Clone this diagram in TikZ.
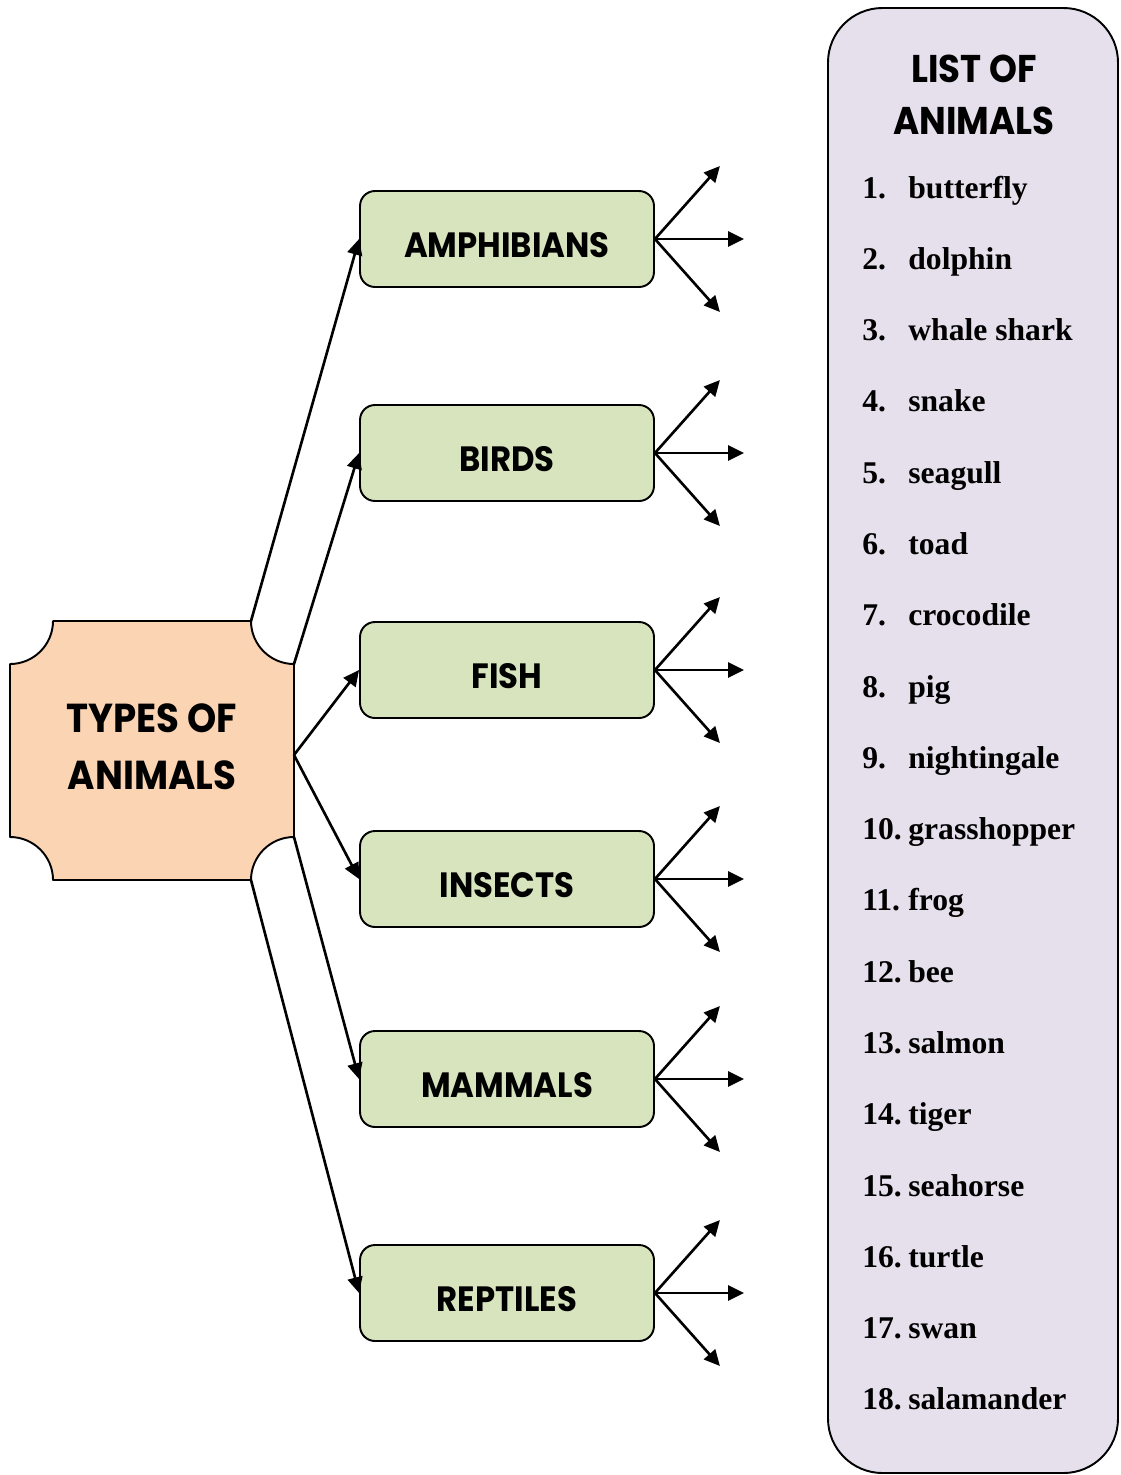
\documentclass[tikz,border=0pt]{standalone}
\usepackage{fontspec}
\setmainfont{Liberation Serif}
\newfontfamily\headfont{Poppins}[FakeStretch=0.92]
\usetikzlibrary{arrows.meta}
\definecolor{peach}{HTML}{FBD4B4}
\definecolor{leaf}{HTML}{D7E4BD}
\definecolor{lilac}{HTML}{E5E0EC}
\tikzset{
  group/.style={draw,line width=1.1pt,fill=leaf,rounded corners=8.5pt,
    minimum width=5.88cm,minimum height=1.92cm,inner sep=0pt,
    text height=20.5pt,text depth=0pt,
    font=\headfont\bfseries\fontsize{20}{24}\selectfont},
  arr/.style={line width=1.5pt,-{Triangle[length=9pt,width=8.5pt]}},
  item/.style={anchor=base west,inner sep=0pt,font=\bfseries\fontsize{18}{21}\selectfont}
}
\begin{document}
\begin{tikzpicture}[x=0.02cm,y=-0.02cm,line cap=round,line join=round]
  \useasboundingbox (0,0) rectangle (1120,1475);
  \draw[line width=1.1pt,fill=peach] (53,621) -- (251,621)
    .. controls (251,644.7) and (270.3,664) .. (294,664) -- (294,837)
    .. controls (270.3,837) and (251,856.3) .. (251,880) -- (53,880)
    .. controls (53,856.3) and (33.7,837) .. (10,837) -- (10,664)
    .. controls (33.7,664) and (53,644.7) .. (53,621) -- cycle;
  \node[align=center,font=\headfont\bfseries\fontsize{23}{32.3}\selectfont] (types) at (152,747) {TYPES OF\\ANIMALS};
  \coordinate (c1) at (251,621);
  \coordinate (c2) at (294,664);
  \coordinate (c3) at (294,755);
  \coordinate (c4) at (294,837);
  \coordinate (c5) at (251,880);
  \node[group] (amph) at (507,239) {AMPHIBIANS};
  \node[group] (birds) at (507,453) {BIRDS};
  \node[group] (fish) at (507,670) {FISH};
  \node[group] (ins) at (507,879) {INSECTS};
  \node[group] (mam) at (507,1079) {MAMMALS};
  \node[group] (rep) at (507,1293) {REPTILES};
  \draw[arr] (c1) -- (amph.west);
  \draw[arr] (c2) -- (birds.west);
  \draw[arr] (c3) -- (fish.west);
  \draw[arr] (c3) -- (ins.west);
  \draw[arr] (c4) -- (mam.west);
  \draw[arr] (c5) -- (rep.west);
  \foreach \g in {amph,birds,fish,ins,mam,rep} {
    \coordinate (\g-up) at ([shift={(65,-73)}]\g.east);
    \coordinate (\g-mid) at ([shift={(89,0)}]\g.east);
    \coordinate (\g-dn) at ([shift={(65,73)}]\g.east);
    \draw[arr] (\g.east) -- (\g-up);
    \draw[arr] (\g.east) -- (\g-mid);
    \draw[arr] (\g.east) -- (\g-dn);
  }
  \draw[line width=1.1pt,fill=lilac,rounded corners=31pt] (828,8) rectangle (1118,1473);
  \node[align=center,font=\headfont\bfseries\fontsize{22}{29.5}\selectfont] (title) at (974,95) {LIST OF\\ANIMALS};
  \foreach \name [count=\i] in {butterfly,dolphin,whale shark,snake,seagull,toad,crocodile,pig,nightingale,grasshopper,frog,bee,salmon,tiger,seahorse,turtle,swan,salamander} {
    \node[item] (num\i) at (862,{198+(\i-1)*71.29}) {\i.};
    \node[item] (ani\i) at (908,{198+(\i-1)*71.29}) {\name};
  }
\end{tikzpicture}
\end{document}
